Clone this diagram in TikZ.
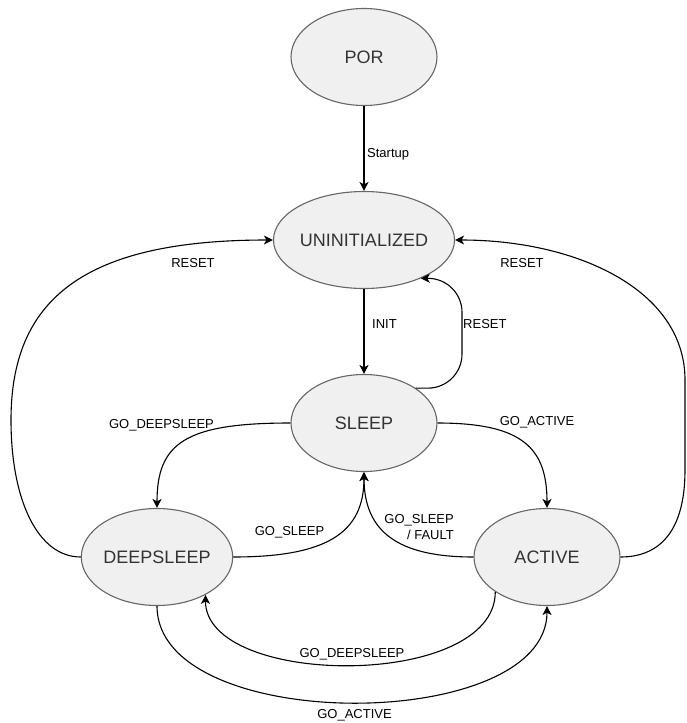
\documentclass[tikz,border=0pt]{standalone}
\usepackage{fontspec}
\setmainfont{Liberation Sans}
\usetikzlibrary{shapes.geometric,arrows.meta}
\definecolor{nodefill}{HTML}{F0F0F0}
\definecolor{nodedraw}{HTML}{666666}
\definecolor{nodetext}{HTML}{333333}
\begin{document}
\begin{tikzpicture}[x=1pt,y=-1pt,
  state/.style={ellipse, draw=nodedraw, fill=nodefill, line width=1.1pt,
    minimum width=146pt, minimum height=97pt, inner sep=0pt, text=nodetext,
    text height=12.9pt, text depth=0pt, font=\fontsize{18}{21}\selectfont},
  trans/.style={draw=black, line width=1.1pt,
    -{Stealth[length=9pt,width=9pt,inset=2.5pt]}},
  lbl/.style={inner sep=0pt, font=\fontsize{13}{16}\selectfont, text=black,
    text height=9.3pt, text depth=0pt}]
\useasboundingbox (0,0) rectangle (686,723);

% states
\node[state] (por)    at (364,57)  {POR};
\node[state] (uninit) at (364,240) {UNINITIALIZED};
\node[state] (sleep)  at (364,423) {SLEEP};
\node[state] (deep)   at (157,557) {DEEPSLEEP};
\node[state] (active) at (547,557) {ACTIVE};

% helper waypoints
\coordinate (lw)  at (11,420);
\coordinate (rw1) at (685,470);
\coordinate (rw2) at (685,380);
\coordinate (rc)  at (462,330);
\coordinate (rt)  at (uninit.-34 -| rc);

% transitions
\draw[trans] (por) -- (uninit);
\draw[trans] (uninit) -- (sleep);
\draw[trans, rounded corners=34pt] (sleep.34) -| (rt) -- (uninit.-34);
\draw[trans] (deep.west) .. controls +(-43,0) and +(0,80) .. (lw)
             .. controls +(0,-120) and +(-190,0) .. (uninit.west);
\draw[trans] (active.east) .. controls +(40,0) and +(0,60) .. (rw1) -- (rw2)
             .. controls +(0,-90) and +(122,0) .. (uninit.east);
\draw[trans] (sleep.west) .. controls +(-105,0) and +(0,-65) .. (deep.north);
\draw[trans] (sleep.east) .. controls +(85,0) and +(0,-60) .. (active.north);
\draw[trans] (deep.east) .. controls +(95,0) and +(0,60) .. (sleep.south);
\draw[trans] (active.west) .. controls +(-75,0) and +(0,60) .. (sleep.south);
\draw[trans] (active.-146) .. controls +(0,98) and +(0,93) .. (deep.-38);
\draw[trans] (deep.south) .. controls +(0,129) and +(0,128) .. (active.south);

% labels
\node[lbl, anchor=west] (lstart)  at (367,153) {Startup};
\node[lbl, anchor=west] (linit)   at (372,324) {INIT};
\node[lbl, anchor=west] (lreset)  at (463,324) {RESET};
\node[lbl] (lresetl) at (193,263) {RESET};
\node[lbl] (lresetr) at (522,263) {RESET};
\node[lbl] (lgds)    at (161.5,424) {GO\_DEEPSLEEP};
\node[lbl] (lga)     at (537,421) {GO\_ACTIVE};
\node[lbl] (lgs)     at (289.5,531) {GO\_SLEEP};
\node[lbl, anchor=east] (lgsf1) at (454,519) {GO\_SLEEP};
\node[lbl, anchor=east] (lgsf2) at (454,535) {/ FAULT};
\node[lbl] (lgds2)   at (352,653) {GO\_DEEPSLEEP};
\node[lbl] (lga2)    at (354.5,714) {GO\_ACTIVE};
\end{tikzpicture}
\end{document}
